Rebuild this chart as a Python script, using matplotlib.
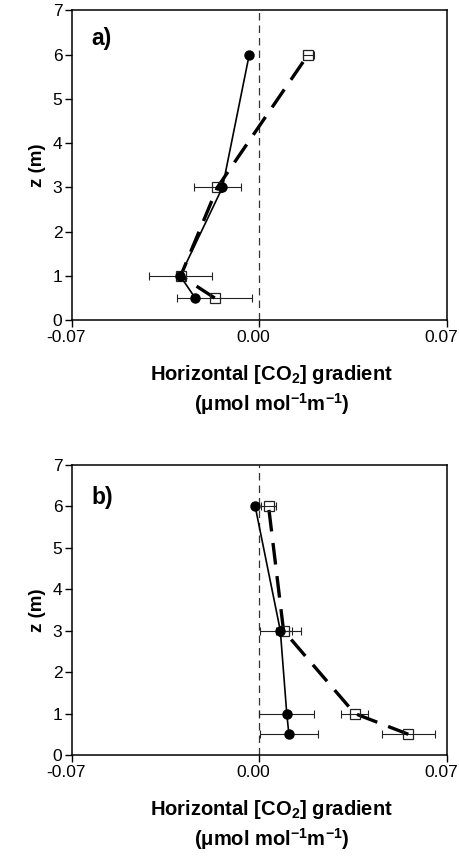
import matplotlib.pyplot as plt
from matplotlib.transforms import offset_copy, ScaledTranslation

plt.rcParams['font.family'] = ['Liberation Sans', 'DejaVu Sans']
plt.rcParams['mathtext.fontset'] = 'custom'
plt.rcParams['mathtext.rm'] = 'Liberation Sans:bold'
plt.rcParams['mathtext.it'] = 'Liberation Sans:bold'
plt.rcParams['mathtext.bf'] = 'Liberation Sans:bold'

# heights (m)
z = [0.5, 1, 3, 6]

# panel a
a_circ = [-0.024, -0.0296, -0.0138, -0.0038]
a_sq = [-0.0167, -0.0294, -0.0157, 0.0182]
a_sq_err = [0.0141, 0.0117, 0.0087, 0.002]

# panel b
b_circ = [0.011, 0.0102, 0.0078, -0.0016]
b_circ_err = [0.0109, 0.0103, 0.0077, 0.0]
b_sq = [0.0556, 0.0356, 0.009, 0.0034]
b_sq_err = [0.0098, 0.005, 0.003, 0.0027]

xticks = [-0.07, 0.0, 0.07]
xticklabels = ['-0.07', '0.00', '0.07']
yticks = [0, 1, 2, 3, 4, 5, 6, 7]

xlabel1 = 'Horizontal [CO$_2$] gradient'
xlabel2 = '(μmol mol$^{-1}$m$^{-1}$)'

fig = plt.figure(figsize=(4.6, 8.56), dpi=100)
ax_a = fig.add_axes([0.1565, 0.626, 0.815, 0.362])
ax_b = fig.add_axes([0.1565, 0.118, 0.815, 0.339])


def draw_panel(ax, label, circ, circ_err, sq, sq_err, label_y):
    ax.axvline(0, color='#333333', lw=0.9, ls=(0, (6, 4)), zorder=1)
    if circ_err is not None:
        ax.errorbar(circ, z, xerr=circ_err, fmt='none', ecolor='#222222',
                    elinewidth=0.8, capsize=3, capthick=0.8, zorder=2)
    ax.errorbar(sq, z, xerr=sq_err, fmt='none', ecolor='#222222',
                elinewidth=0.8, capsize=3, capthick=0.8, zorder=2)
    ax.plot(sq, z, color='black', lw=2.4, ls=(0, (6.5, 3.5)), marker='s',
            markersize=7, markerfacecolor='none', markeredgecolor='#222222',
            markeredgewidth=0.9, zorder=3)
    ax.plot(circ, z, color='black', lw=1.2, marker='o', markersize=6.5,
            markerfacecolor='black', markeredgecolor='black', zorder=4)

    ax.set_xlim(-0.07, 0.07)
    ax.set_ylim(0, 7)
    ax.set_xticks(xticks)
    ax.set_xticklabels(xticklabels)
    ax.set_yticks(yticks)
    ax.tick_params(direction='out', length=5, width=1, labelsize=12.5, pad=2)
    # nudge x tick labels left so the last one stays inside the figure
    shift = ScaledTranslation(-0.06, 0, fig.dpi_scale_trans)
    for lab in ax.get_xticklabels():
        lab.set_transform(lab.get_transform() + shift)
    for s in ax.spines.values():
        s.set_linewidth(1.1)
    ax.set_ylabel('z (m)', fontsize=13.5, fontweight='bold', labelpad=5)

    # two-line x label below the tick labels
    t1 = offset_copy(ax.transAxes, fig=fig, x=0, y=-60, units='dots')
    t2 = offset_copy(ax.transAxes, fig=fig, x=0, y=-91, units='dots')
    ax.text(0.532, 0, xlabel1, transform=t1, fontsize=14.5, fontweight='bold',
            ha='center', va='baseline')
    ax.text(0.532, 0, xlabel2, transform=t2, fontsize=14.5, fontweight='bold',
            ha='center', va='baseline')

    ax.text(0.053, label_y, label, transform=ax.transAxes, fontsize=16.5,
            fontweight='bold', va='center', ha='left')


draw_panel(ax_a, 'a)', a_circ, None, a_sq, a_sq_err, 0.91)
draw_panel(ax_b, 'b)', b_circ, b_circ_err, b_sq, b_sq_err, 0.886)

fig.savefig('out.png', dpi=100)
